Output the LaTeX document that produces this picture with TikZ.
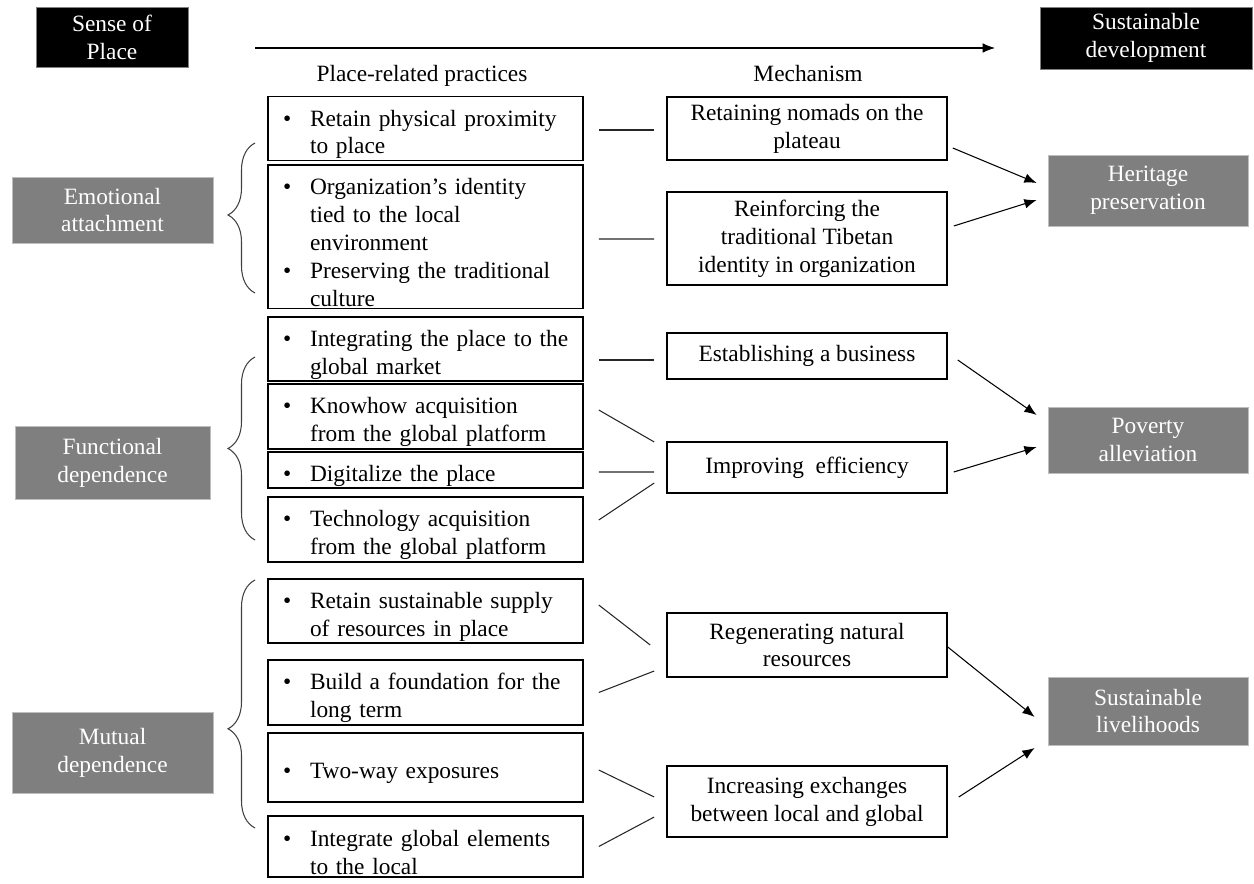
\documentclass[tikz,border=0pt]{standalone}
\usepackage{fontspec}
\setmainfont{Liberation Serif}
\usetikzlibrary{arrows.meta,calc,decorations.pathreplacing}
\definecolor{boxgray}{RGB}{127,127,127}
\definecolor{boxedge}{RGB}{190,190,190}
\newcommand{\pitem}[1]{\par\raggedright\noindent\hangindent=0.84cm\hangafter=1\makebox[0.84cm][l]{\hspace{0.3cm}\textbullet}#1\par}

\begin{document}
\begin{tikzpicture}[x=0.02cm, y=-0.02cm, font=\fontsize{13.3}{15.9}\selectfont,
    headbox/.style={fill=black, draw=gray, text=white, align=center},
    factor/.style={fill=boxgray, draw=boxedge, text=white, align=center, minimum width=4.02cm},
    outcome/.style={fill=boxgray, draw=boxedge, text=white, align=center, minimum width=4cm},
    practice/.style={draw, line width=0.9pt, text width=6.3cm, inner xsep=0pt, inner ysep=1pt},
    mech/.style={draw, line width=0.9pt, minimum width=5.6cm, inner ysep=1pt, align=center},
    link/.style={line width=0.6pt, black!85},
    leads/.style={line width=0.6pt, -{Latex[length=7pt,width=5.5pt]}},
    bracket/.style={line width=0.6pt, black!75, decorate}]
\useasboundingbox (0,0) rectangle (1254,884);

% top row
\node (place) [headbox, minimum width=3.04cm, minimum height=1.2cm] at (112,37) {Sense of\\Place};
\node (sdev) [headbox, minimum width=4.24cm, minimum height=1.24cm] at (1146,38) {Sustainable\\development};
\coordinate (flowstart) at (255,48);
\coordinate (flowend) at (995,48);
\draw[leads] (flowstart) -- (flowend);
\node (practicehead) at (422,76) {Place-related practices};
\node (mechhead) at (808,74) {Mechanism};

% sense of place dimensions
\node (emo) [factor, minimum height=1.32cm] at (112.5,210) {Emotional\\attachment};
\node (func) [factor, minimum width=3.9cm, minimum height=1.46cm] at (112.5,462.5) {Functional\\dependence};
\node (mutual) [factor, minimum height=1.62cm] at (112.5,752.5) {Mutual\\dependence};

\draw[bracket, decoration={brace, amplitude=0.54cm, aspect=0.52}] (255,293) -- (255,143);
\draw[bracket, decoration={brace, amplitude=0.54cm, aspect=0.5}] (255,540) -- (255,357);
\draw[bracket, decoration={brace, amplitude=0.54cm, aspect=0.4}] (255,828) -- (255,580);

% practices
\node (P1) [practice, minimum height=1.26cm] at (425.5,128.5) {\pitem{Retain physical proximity\newline to place}};
\node (P2) [practice, minimum height=2.8cm] at (425.5,237) {\pitem{Organization's identity\newline tied to the local\newline environment}\pitem{Preserving the traditional\newline culture}};
\node (P3) [practice, minimum height=1.2cm] at (425.5,349) {\pitem{Integrating the place to the\newline global market}};
\node (P4) [practice, minimum height=1.14cm] at (425.5,416.5) {\pitem{Knowhow acquisition\newline from the global platform}};
\node (P5) [practice, minimum height=0.68cm] at (425.5,470) {\pitem{Digitalize the place}};
\node (P6) [practice, minimum height=1.22cm] at (425.5,529.5) {\pitem{Technology acquisition\newline from the global platform}};
\node (P7) [practice, minimum height=1.28cm] at (425.5,611) {\pitem{Retain sustainable supply\newline of resources in place}};
\node (P8) [practice, minimum height=1.26cm] at (425.5,692.5) {\pitem{Build a foundation for the\newline long term}};
\node (P9) [practice, minimum height=1.38cm] at (425.5,767.5) {\pitem{Two-way exposures}};
\node (P10) [practice, minimum height=1.22cm] at (425.5,846.5) {\pitem{Integrate global elements\newline to the local}};

% mechanisms
\node (M1) [mech, minimum height=1.26cm] at (807,128.5) {Retaining nomads on the\\plateau};
\node (M2) [mech, minimum height=1.86cm] at (807,238.5) {Reinforcing the\\traditional Tibetan\\identity in organization};
\node (M3) [mech, minimum height=0.92cm] at (807,356) {Establishing a business};
\node (M4) [mech, minimum height=1.02cm] at (807,467.5) {Improving~~efficiency};
\node (M5) [mech, minimum height=1.28cm] at (807,645) {Regenerating natural\\resources};
\node (M6) [mech, minimum height=1.42cm] at (807,801.5) {Increasing exchanges\\between local and global};

% outcomes
\node (O1) [outcome, minimum height=1.42cm] at (1148,190.5) {Heritage\\preservation};
\node (O2) [outcome, minimum height=1.32cm] at (1148,440) {Poverty\\alleviation};
\node (O3) [outcome, minimum height=1.36cm] at (1148,711) {Sustainable\\livelihoods};

\draw[link] ($(P1.east)+(15,1.5)$) -- ($(M1.west)+(-12,1.5)$);
\draw[link] ($(P2.east)+(15,2)$) -- ($(M2.west)+(-12,0.5)$);
\draw[link] ($(P3.east)+(15,11)$) -- ($(M3.west)+(-12,4)$);
\draw[link] ($(P4.east)+(15,-6.5)$) -- ($(M4.west)+(-12,-25.5)$);
\draw[link] ($(P5.east)+(15,2)$) -- ($(M4.west)+(-12,4.5)$);
\draw[link] ($(P6.east)+(15,-9.5)$) -- ($(M4.west)+(-12,15.5)$);
\draw[link] ($(P7.east)+(15,-6)$) -- ($(M5.west)+(-16,0)$);
\draw[link] ($(P8.east)+(15,0)$) -- ($(M5.west)+(-12,26)$);
\draw[link] ($(P9.east)+(15,2.5)$) -- ($(M6.west)+(-12,-4.5)$);
\draw[link] ($(P10.east)+(15,0)$) -- ($(M6.west)+(-12,15.5)$);

\draw[leads] ($(M1.east)+(5,19.5)$) -- ($(O1.west)+(-11,-7.5)$);
\draw[leads] ($(M2.east)+(6,-12.5)$) -- ($(O1.west)+(-11,9.5)$);
\draw[leads] ($(M3.east)+(10,4)$) -- ($(O2.west)+(-11,-25)$);
\draw[leads] ($(M4.east)+(6,4.5)$) -- ($(O2.west)+(-11,7)$);
\draw[leads] ($(M5.east)+(0,2)$) -- ($(O3.west)+(-13,6)$);
\draw[leads] ($(M6.east)+(11,-4.5)$) -- ($(O3.west)+(-13,37)$);
\end{tikzpicture}
\end{document}
